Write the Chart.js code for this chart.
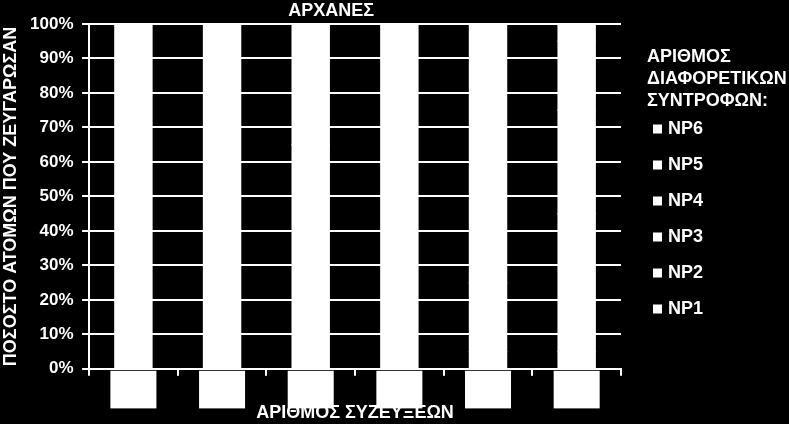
<!DOCTYPE html>
<html>
<head>
<meta charset="utf-8">
<script src="https://cdn.jsdelivr.net/npm/chart.js@4.4.1/dist/chart.umd.min.js"></script>
<style>
  html, body { margin: 0; padding: 0; background: #000; }
  #wrap { width: 789px; height: 424px; }
</style>
</head>
<body>
<div id="wrap"><canvas id="chart" width="789" height="424"></canvas></div>
<script>
// number of matings (x axis)
const categories = ["1", "2", "3", "4", "5", "6"];

// share of individuals (%) by number of different partners
const np1 = [100, 40, 20, 10, 5, 5];
const np2 = [0, 60, 45, 30, 20, 15];
const np3 = [0, 0, 35, 40, 35, 25];
const np4 = [0, 0, 0, 20, 30, 30];
const np5 = [0, 0, 0, 0, 10, 20];
const np6 = [0, 0, 0, 0, 0, 5];

const yTicks = [0, 10, 20, 30, 40, 50, 60, 70, 80, 90, 100];

const titleText = "ΑΡΧΑΝΕΣ";
const legendTitle = ["ΑΡΙΘΜΟΣ", "ΔΙΑΦΟΡΕΤΙΚΩΝ", "ΣΥΝΤΡΟΦΩΝ:"];

const fam = "'Liberation Sans', Arial, sans-serif";
Chart.defaults.font.family = fam;
Chart.defaults.color = "#fff";

function series(label, data) {
  return {
    label: label,
    data: data,
    backgroundColor: "#ffffff",
    borderWidth: 0,
    inflateAmount: 0.6, // hide seams between the stacked white parts
    categoryPercentage: 1,
    barPercentage: 0.42
  };
}

// chart title and the legend on the right
const sideText = {
  id: "sideText",
  afterDraw(chart) {
    const ctx = chart.ctx;
    const area = chart.chartArea;
    ctx.save();
    ctx.fillStyle = "#fff";
    ctx.font = "bold 18px " + fam;
    ctx.textBaseline = "middle";
    ctx.textAlign = "center";
    ctx.fillText(titleText, area.left + (area.right - area.left) * 0.455, 11);

    ctx.textAlign = "left";
    const lx = area.right + 26;
    legendTitle.forEach((line, i) => ctx.fillText(line, lx, 57 + i * 22));

    const sets = chart.data.datasets.slice().reverse();
    sets.forEach((ds, i) => {
      const y = 129 + i * 36;
      ctx.fillStyle = ds.backgroundColor;
      ctx.fillRect(lx + 6, y - 4.5, 9, 9);
      ctx.fillStyle = "#fff";
      ctx.fillText(ds.label, lx + 21, y);
    });
    ctx.restore();
  }
};

const ctx = document.getElementById("chart").getContext("2d");

new Chart(ctx, {
  type: "bar",
  data: {
    labels: categories,
    datasets: [
      series("NP1", np1),
      series("NP2", np2),
      series("NP3", np3),
      series("NP4", np4),
      series("NP5", np5),
      series("NP6", np6)
    ]
  },
  options: {
    responsive: false,
    animation: false,
    layout: { padding: { top: 24, right: 168, bottom: 0, left: 0 } },
    plugins: {
      legend: { display: false },
      title: { display: false },
      tooltip: { enabled: false }
    },
    scales: {
      x: {
        stacked: true,
        grid: { offset: true, drawOnChartArea: false, color: "#fff", lineWidth: 2, tickLength: 7 },
        border: { color: "#fff", width: 2 },
        ticks: {
          color: "#fff",
          font: { size: 18, weight: "bold" },
          padding: 2,
          showLabelBackdrop: true,
          backdropColor: "#fff",
          backdropPadding: { top: 7, bottom: 9, left: 18, right: 18 }
        },
        title: {
          display: true,
          text: "ΑΡΙΘΜΟΣ ΣΥΖΕΥΞΕΩΝ",
          color: "#fff",
          font: { size: 18, weight: "bold" },
          padding: { top: 1, bottom: 0 }
        }
      },
      y: {
        stacked: true,
        min: 0,
        max: 100,
        afterBuildTicks(scale) {
          scale.ticks = yTicks.map(v => ({ value: v }));
        },
        grid: { color: "#fff", lineWidth: 2, tickLength: 7 },
        border: { color: "#fff", width: 2 },
        ticks: {
          color: "#fff",
          font: { size: 17, weight: "bold" },
          padding: 8.5,
          callback: v => v + "%"
        },
        title: {
          display: true,
          text: "ΠΟΣΟΣΤΟ ΑΤΟΜΩΝ ΠΟΥ ΖΕΥΓΑΡΩΣΑΝ",
          color: "#fff",
          font: { size: 18, weight: "bold" },
          padding: { top: 0, bottom: 0 }
        }
      }
    }
  },
  plugins: [sideText]
});
</script>
</body>
</html>
